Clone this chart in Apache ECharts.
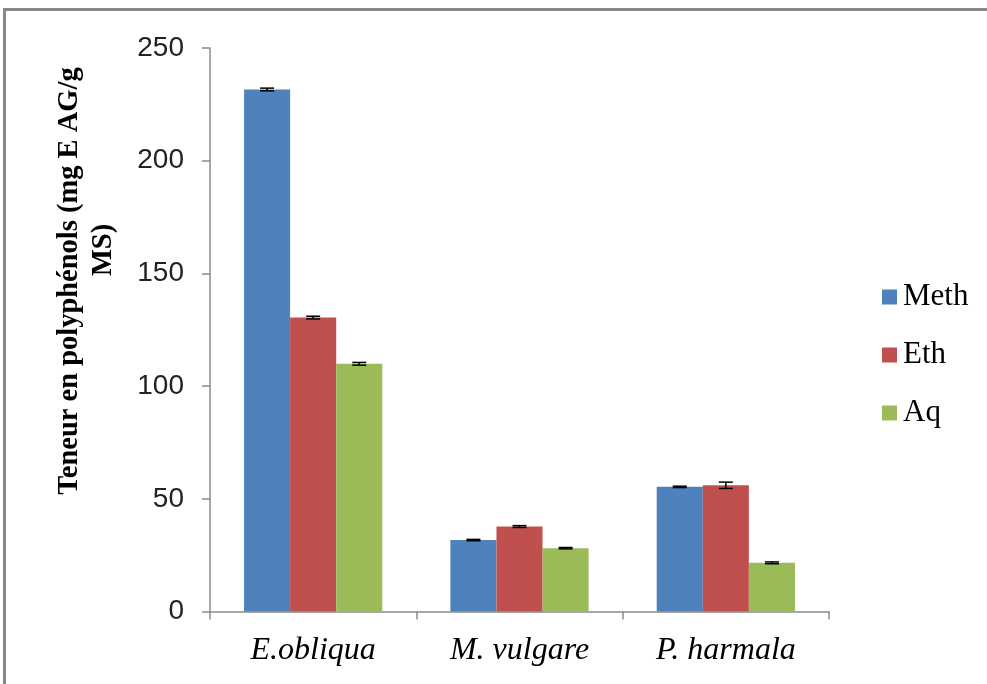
<!DOCTYPE html>
<html>
<head>
<meta charset="utf-8">
<script src="https://cdn.jsdelivr.net/npm/echarts@6/dist/echarts.min.js"></script>
<style>
html,body{margin:0;padding:0;background:#fff;}
#chart{width:987px;height:684px;}
</style>
</head>
<body>
<div id="chart"></div>
<script>
const categories = ['E.obliqua', 'M. vulgare', 'P. harmala'];
const seriesNames = ['Meth', 'Eth', 'Aq'];
const methValues = [231.6, 31.7, 55.3];
const ethValues = [130.4, 37.7, 56.0];
const aqValues = [109.9, 28.1, 21.6];
const methErrors = [0.6, 0.3, 0.3];
const ethErrors = [0.6, 0.4, 1.4];
const aqErrors = [0.6, 0.3, 0.4];
const yTicks = [0, 50, 100, 150, 200, 250];
const colors = ['#4F81BD', '#C0504D', '#9BBB59'];

const values = [methValues, ethValues, aqValues];
const errors = [methErrors, ethErrors, aqErrors];
const catGap = 0.33;

const chart = echarts.init(document.getElementById('chart'));

function errorSeries(si) {
  return {
    type: 'custom',
    name: seriesNames[si] + '_err',
    z: 10,
    silent: true,
    data: categories.map((c, i) => [i, values[si][i], errors[si][i]]),
    renderItem: function (params, api) {
      const band = api.size([1, 0])[0];
      const bw = band * (1 - catGap) / 3;
      const center = api.coord([api.value(0), 0])[0];
      const x = center + (si - 1) * bw;
      const yHi = api.coord([api.value(0), api.value(1) + api.value(2)])[1];
      const yLo = api.coord([api.value(0), api.value(1) - api.value(2)])[1];
      const half = 7;
      const st = { stroke: '#000', lineWidth: 1.5 };
      return {
        type: 'group',
        children: [
          { type: 'line', shape: { x1: x, y1: yHi, x2: x, y2: yLo }, style: st },
          { type: 'line', shape: { x1: x - half, y1: yHi, x2: x + half, y2: yHi }, style: st },
          { type: 'line', shape: { x1: x - half, y1: yLo, x2: x + half, y2: yLo }, style: st }
        ]
      };
    }
  };
}

const barSeries = seriesNames.map((n, si) => ({
  type: 'bar',
  name: n,
  data: values[si],
  barGap: '0%',
  barCategoryGap: (catGap * 100) + '%',
  itemStyle: { color: colors[si] }
}));

chart.setOption({
  animation: false,
  backgroundColor: '#fff',
  grid: { left: 210, right: 158, top: 48, bottom: 72.5, containLabel: false },
  legend: {
    data: seriesNames,
    orient: 'vertical',
    left: 877,
    top: 276,
    itemWidth: 15,
    itemHeight: 15,
    itemGap: 26,
    icon: 'rect',
    textStyle: { fontFamily: 'Liberation Serif', fontSize: 31, color: '#000', lineHeight: 32, padding: [0, 0, 0, 1] }
  },
  xAxis: {
    type: 'category',
    data: categories,
    axisLine: { show: true, lineStyle: { color: '#8a8a8a', width: 1.5 } },
    axisTick: { show: true, length: 8, lineStyle: { color: '#8a8a8a', width: 1.5 } },
    axisLabel: { fontFamily: 'Liberation Serif', fontStyle: 'italic', fontSize: 32, color: '#000', margin: 23 }
  },
  yAxis: {
    type: 'value',
    min: yTicks[0],
    max: yTicks[yTicks.length - 1],
    interval: yTicks[1] - yTicks[0],
    axisLine: { show: true, lineStyle: { color: '#8a8a8a', width: 1.5 } },
    axisTick: { show: true, length: 8, lineStyle: { color: '#8a8a8a', width: 1.5 } },
    splitLine: { show: false },
    axisLabel: { fontFamily: 'Liberation Sans', fontSize: 28, color: '#222', margin: 26 }
  },
  graphic: [
    {
      type: 'rect',
      shape: { x: 4.5, y: 9.5, width: 1000, height: 700 },
      style: { fill: 'none', stroke: '#888', lineWidth: 3 },
      z: 100
    },
    {
      type: 'text',
      x: 70, y: 281,
      rotation: Math.PI / 2,
      style: {
        text: 'Teneur en polyphénols (mg E AG/g',
        font: 'bold 28.5px "Liberation Serif"',
        fill: '#000',
        textAlign: 'center',
        textVerticalAlign: 'middle'
      }
    },
    {
      type: 'text',
      x: 104, y: 250,
      rotation: Math.PI / 2,
      style: {
        text: 'MS)',
        font: 'bold 28.5px "Liberation Serif"',
        fill: '#000',
        textAlign: 'center',
        textVerticalAlign: 'middle'
      }
    }
  ],
  series: barSeries.concat([0, 1, 2].map(errorSeries))
});
</script>
</body>
</html>
